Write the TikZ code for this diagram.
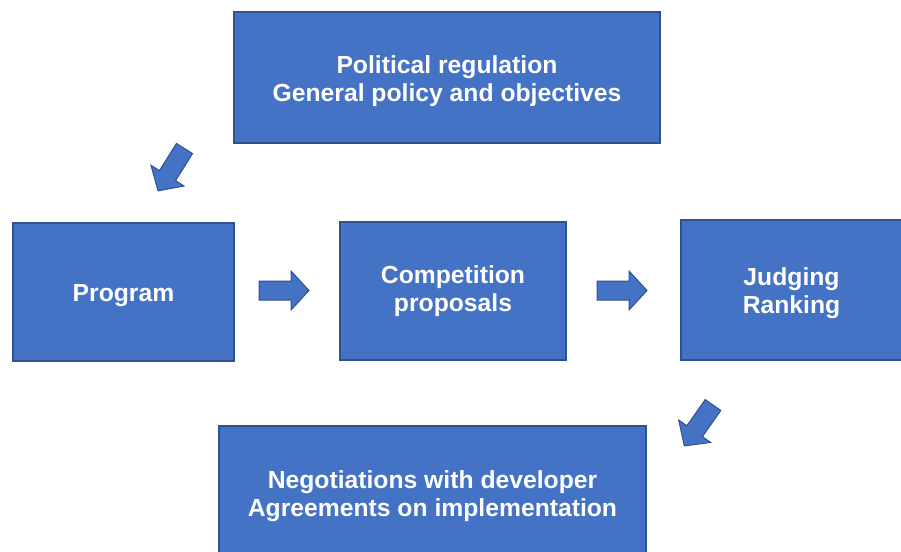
\documentclass[tikz,border=0pt]{standalone}
\usepackage{fontspec}
\setmainfont{Liberation Sans}
\definecolor{boxfill}{HTML}{4472C4}
\definecolor{boxline}{HTML}{2F528F}
\tikzset{
  blk/.style={draw=boxline, fill=boxfill, line width=1.3pt, inner sep=0pt},
  blktext/.style={text=white, align=center, font=\fontsize{24.7}{28}\selectfont\bfseries, inner sep=0pt},
  blkarrow/.style={draw=boxline, fill=boxfill, line width=1pt, line join=miter}
}
\newcommand{\blockarrow}[3]{%
  \begin{scope}[shift={(#1,#2)}, rotate=#3]
    \draw[blkarrow] (0,-9.5) -- (32,-9.5) -- (32,-19.5) -- (50,0) -- (32,19.5) -- (32,9.5) -- (0,9.5) -- cycle;
  \end{scope}}
\begin{document}
\begin{tikzpicture}[x=1pt, y=-1pt]
\useasboundingbox (0,0) rectangle (901,551);
\clip (0,0) rectangle (901,551);
\node[blk, minimum width=426pt, minimum height=131pt] (policy) at (447,77.5) {};
\node[blk, minimum width=221pt, minimum height=138pt] (program) at (123.5,292) {};
\node[blk, minimum width=226pt, minimum height=138pt] (competition) at (453,291) {};
\node[blk, minimum width=221pt, minimum height=140pt] (judging) at (791.5,290) {};
\node[blk, minimum width=427pt, minimum height=134pt] (negotiation) at (432.5,493) {};
\node[blktext] (policyt) at ([yshift=-4pt]policy.center) {Political regulation\\General policy and objectives};
\node[blktext] (programt) at ([yshift=-4pt]program.center) {Program};
\node[blktext] (competitiont) at ([yshift=0pt]competition.center) {Competition\\proposals};
\node[blktext] (judgingt) at ([yshift=-3pt]judging.center) {Judging\\Ranking};
\node[blktext] (negotiationt) at ([yshift=-3pt]negotiation.center) {Negotiations with developer\\Agreements on implementation};
\blockarrow{184.5}{148.5}{238}
\blockarrow{259}{290.5}{0}
\blockarrow{597}{290.5}{0}
\blockarrow{713}{405}{235}
\end{tikzpicture}
\end{document}
